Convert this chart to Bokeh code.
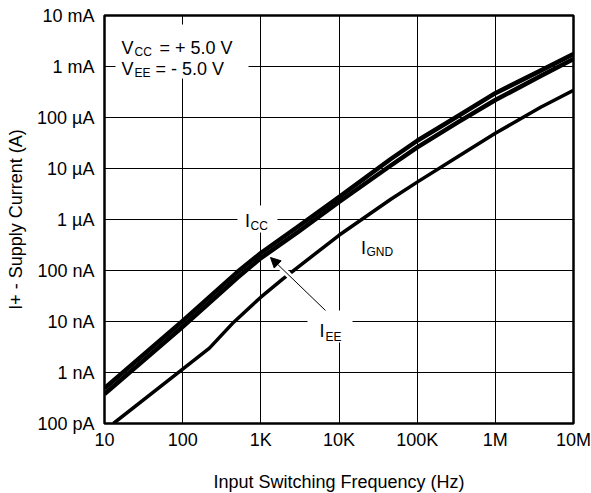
from bokeh.plotting import figure
from bokeh.models import FixedTicker, CustomJSTickFormatter, Arrow, NormalHead
from bokeh.core.properties import value
from bokeh.embed import file_html
from bokeh.resources import INLINE

# ---------------- data ----------------
x_ticks = [10, 100, 1e3, 1e4, 1e5, 1e6, 1e7]
x_tick_labels = ["10", "100", "1K", "10K", "100K", "1M", "10M"]
y_ticks = [1e-10, 1e-9, 1e-8, 1e-7, 1e-6, 1e-5, 1e-4, 1e-3, 1e-2]
y_tick_labels = ["100 pA", "1 nA", "10 nA", "100 nA", "1 µA", "10 µA", "100 µA", "1 mA", "10 mA"]

freq_bundle = [10, 100, 500, 1e3, 3e3, 1e4, 4.5e4, 1e5, 3.3e5, 1e6, 3.8e6, 1e7]
i_cc = [4.9e-10, 1.02e-8, 9.3e-8, 2.2e-7, 7.3e-7, 2.75e-6, 1.5e-5, 3.5e-5, 1.06e-4, 3.0e-4, 8.3e-4, 1.75e-3]
i_ee = [3.8e-10, 7.9e-9, 7.2e-8, 1.75e-7, 5.7e-7, 2.2e-6, 1.12e-5, 2.6e-5, 8.0e-5, 2.2e-4, 6.5e-4, 1.4e-3]

freq_gnd = [13, 100, 220, 450, 1e3, 1.9e3, 1e4, 4.6e4, 1e5, 3.3e5, 1e6, 3.8e6, 1e7]
i_gnd = [1.0e-10, 1.17e-9, 3.0e-9, 9.7e-9, 3.0e-8, 6.8e-8, 4.9e-7, 2.5e-6, 5.4e-6, 1.7e-5, 4.9e-5, 1.59e-4, 3.4e-4]

FONT = "Liberation Sans"

# frame geometry (page px) used to place annotations
FL, FR, FT, FB = 104, 573, 15, 423


def X(px):
    return 10 ** (1 + 6 * (px - FL) / (FR - FL))


def Y(py):
    return 10 ** (-10 + 8 * (FB - py) / (FB - FT))


p = figure(frame_width=469, frame_height=408, x_axis_type="log", y_axis_type="log",
           x_range=(10, 1e7), y_range=(1e-10, 1e-2),
           output_backend="svg", toolbar_location=None,
           min_border_left=104, min_border_right=18, min_border_top=15, min_border_bottom=70)

p.background_fill_color = "white"
p.border_fill_color = "white"
p.outline_line_color = "black"
p.outline_line_width = 2.5

fmt_code = """
const i = tv.findIndex(t => Math.abs(Math.log10(t) - Math.log10(tick)) < 1e-6);
return i >= 0 ? tl[i] : '';
"""
p.xaxis.ticker = FixedTicker(ticks=x_ticks)
p.yaxis.ticker = FixedTicker(ticks=y_ticks)
p.xaxis.formatter = CustomJSTickFormatter(args=dict(tv=x_ticks, tl=x_tick_labels), code=fmt_code)
p.yaxis.formatter = CustomJSTickFormatter(args=dict(tv=y_ticks, tl=y_tick_labels), code=fmt_code)

for ax in (p.xaxis, p.yaxis):
    ax.axis_line_color = None
    ax.major_tick_line_color = None
    ax.minor_tick_line_color = None
    ax.major_tick_out = 0
    ax.major_tick_in = 0
    ax.minor_tick_out = 0
    ax.minor_tick_in = 0
    ax.major_label_text_font = FONT
    ax.major_label_text_font_size = "18px"
    ax.major_label_text_color = "black"
    ax.axis_label_text_font = FONT
    ax.axis_label_text_font_size = "18px"
    ax.axis_label_text_font_style = "normal"
    ax.axis_label_text_color = "black"

p.xaxis.major_label_standoff = 6
p.xaxis.axis_label_standoff = 19
p.yaxis.major_label_standoff = 10
p.yaxis.axis_label_standoff = 8
p.xaxis.axis_label = "Input Switching Frequency (Hz)"
p.yaxis.axis_label = "I+ - Supply Current (A)"

p.xgrid.grid_line_color = "black"
p.ygrid.grid_line_color = "black"
p.xgrid.grid_line_width = 1
p.ygrid.grid_line_width = 1

# white boxes behind labels (interrupt the grid)
p.quad(left=[X(115), X(237), X(307)], right=[X(248), X(277), X(352)],
       top=[Y(24), Y(205), Y(310)], bottom=[Y(78), Y(232), Y(342)],
       fill_color="white", line_color=None)

# curves
p.line(freq_gnd, i_gnd, line_width=3.5, color="black", line_join="round")
p.line(freq_bundle, i_ee, line_width=4.5, color="black", line_join="round")
p.line(freq_bundle, i_cc, line_width=4.5, color="black", line_join="round")

# arrow with white halo where it crosses I_GND
sx, sy, tx, ty = 325, 310, 270, 257
h0, h1 = 0.55, 0.85
p.line([X(sx + h0 * (tx - sx)), X(sx + h1 * (tx - sx))],
       [Y(sy + h0 * (ty - sy)), Y(sy + h1 * (ty - sy))],
       line_width=6, color="white")
p.add_layout(Arrow(end=NormalHead(size=10, fill_color="black", line_color="black", line_width=1),
                   x_start=X(sx), y_start=Y(sy), x_end=X(tx), y_end=Y(ty),
                   line_width=1, line_color="black"))


def txt(px, py, s, size):
    p.text(x=[X(px)], y=[Y(py)], text=[s], text_font=value(FONT),
           text_font_size=size, text_color="black",
           text_baseline="alphabetic", text_align="left")


# V_CC / V_EE
txt(121, 47, "V", "18px")
txt(134, 51, "CC", "12px")
txt(159, 47, "=  + 5.0 V", "18px")
txt(121, 68, "V", "18px")
txt(134, 72, "EE", "12px")
txt(155, 68, "=  - 5.0 V", "18px")
# I_CC
txt(244.5, 220, "I", "18px")
txt(250, 225, "CC", "12px")
# I_GND
txt(360.5, 247, "I", "18px")
txt(366, 251, "GND", "12px")
# I_EE
txt(319, 330, "I", "18px")
txt(325, 336, "EE", "12px")

open("out.html", "w").write(file_html(p, INLINE))
